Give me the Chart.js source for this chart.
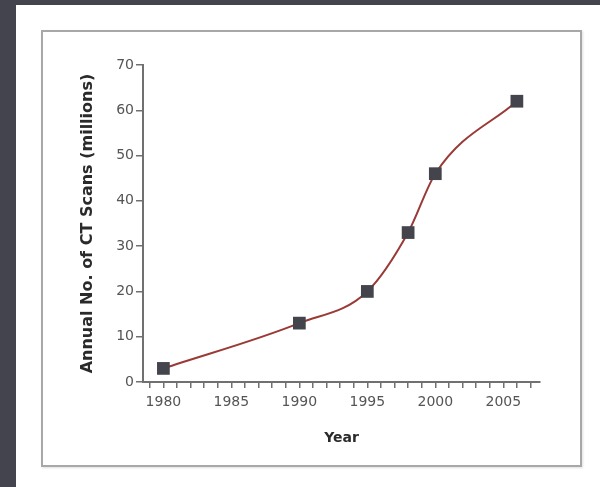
<!DOCTYPE html>
<html>
<head>
<meta charset="utf-8">
<script src="https://cdn.jsdelivr.net/npm/chart.js@4.4.1/dist/chart.umd.min.js"></script>
<style>
  html, body { margin: 0; padding: 0; width: 600px; height: 487px; overflow: hidden; background: #44444f; }
  #panel { position: absolute; left: 16px; top: 5px; width: 584px; height: 482px; background: #ffffff; }
  #frame { position: absolute; left: 41px; top: 30px; width: 537px; height: 433px; border: 2px solid #a8a8a8; box-shadow: 1px 1px 2px rgba(0,0,0,0.12); }
  #wrap { position: absolute; left: 0; top: 0; width: 600px; height: 487px; }
</style>
</head>
<body>
<div id="panel"></div>
<div id="frame"></div>
<div id="wrap"><canvas id="c" width="600" height="487"></canvas></div>
<script>
const years = [1980, 1990, 1995, 1998, 2000, 2006];
const scans = [3, 13, 20, 33, 46, 62];
const xLabeled = [1980, 1985, 1990, 1995, 2000, 2005];
const yTicks = [0, 10, 20, 30, 40, 50, 60, 70];

const points = years.map((y, i) => ({ x: y, y: scans[i] }));

new Chart(document.getElementById('c'), {
  type: 'scatter',
  data: {
    datasets: [{
      data: points,
      showLine: true,
      cubicInterpolationMode: 'monotone',
      borderColor: '#9a3a36',
      borderWidth: 2,
      pointStyle: 'rect',
      pointRadius: 9,
      pointHoverRadius: 9,
      pointBackgroundColor: '#44444c',
      pointBorderColor: '#44444c',
      pointBorderWidth: 0
    }]
  },
  options: {
    responsive: false,
    animation: false,
    events: [],
    layout: { padding: { left: 70, right: 60, top: 65, bottom: 35 } },
    plugins: { legend: { display: false }, tooltip: { enabled: false } },
    scales: {
      x: {
        type: 'linear',
        min: 1978.5,
        max: 2007.7,
        afterFit: s => { s.height = 70; },
        border: { display: true, color: '#707070', width: 2 },
        grid: { drawOnChartArea: false, drawTicks: true, tickLength: 6, color: '#707070', lineWidth: 1.5 },
        ticks: {
          stepSize: 1,
          includeBounds: false,
          autoSkip: false,
          maxRotation: 0,
          padding: 6,
          color: '#555555',
          font: { family: 'DejaVu Sans', size: 14 },
          callback: v => xLabeled.includes(v) ? String(v) : ''
        },
        title: {
          display: true,
          text: 'Year',
          color: '#2a2a2a',
          padding: { top: 4, bottom: 5 },
          font: { family: 'DejaVu Sans', size: 14, weight: 'bold' }
        }
      },
      y: {
        min: 0,
        max: 70,
        afterFit: s => { s.width = 73; },
        afterBuildTicks: s => { s.ticks = yTicks.map(v => ({ value: v })); },
        border: { display: true, color: '#707070', width: 2 },
        grid: { drawOnChartArea: false, drawTicks: true, tickLength: 7, color: '#707070', lineWidth: 1.5 },
        ticks: {
          padding: 2,
          color: '#555555',
          font: { family: 'DejaVu Sans', size: 14 }
        },
        title: {
          display: true,
          text: 'Annual No. of CT Scans (millions)',
          color: '#2a2a2a',
          padding: { top: 8, bottom: 4 },
          font: { family: 'DejaVu Sans', size: 16, weight: 'bold' }
        }
      }
    }
  }
});
</script>
</body>
</html>
